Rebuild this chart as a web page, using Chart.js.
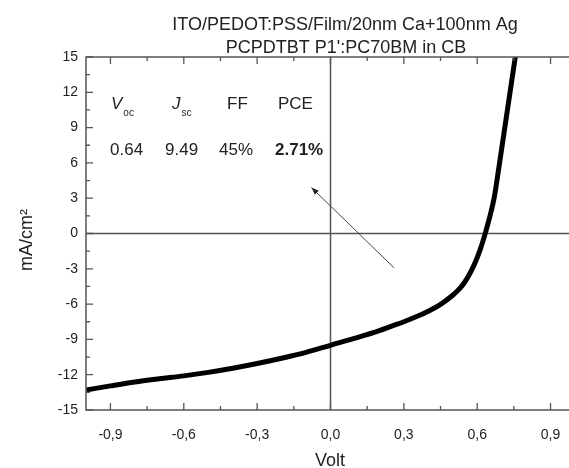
<!DOCTYPE html>
<html>
<head>
<meta charset="utf-8">
<script src="https://cdn.jsdelivr.net/npm/chart.js@4.4.0/dist/chart.umd.min.js"></script>
<style>
  html, body { margin: 0; padding: 0; overflow: hidden; background: #fff; }
  #wrap { width: 580px; height: 468px; }
</style>
</head>
<body>
<div id="wrap"><canvas id="ivChart"></canvas></div>
<script>
// J-V curve
const voltage = [-1.0, -0.9, -0.8, -0.7, -0.6, -0.5, -0.4, -0.3, -0.2, -0.1, 0.0, 0.1, 0.2, 0.25, 0.3, 0.35, 0.4, 0.45, 0.5, 0.53, 0.55, 0.57, 0.59, 0.61, 0.63, 0.65, 0.67, 0.69, 0.71, 0.73, 0.75, 0.77];
const current = [-13.3, -12.95, -12.62, -12.35, -12.1, -11.8, -11.45, -11.05, -10.6, -10.1, -9.5, -8.9, -8.25, -7.87, -7.5, -7.08, -6.6, -6.02, -5.25, -4.65, -4.1, -3.4, -2.55, -1.5, -0.2, 1.3, 3.1, 5.8, 8.6, 11.4, 14.2, 17.0];

const xTickVals = [-0.9, -0.6, -0.3, 0, 0.3, 0.6, 0.9];
const yTickVals = [-15, -12, -9, -6, -3, 0, 3, 6, 9, 12, 15];

const titleLines = ['ITO/PEDOT:PSS/Film/20nm Ca+100nm Ag', "PCPDTBT P1':PC70BM in CB"];
const paramNames = [['V', 'oc'], ['J', 'sc'], ['FF', ''], ['PCE', '']];
const paramValues = ['0.64', '9.49', '45%', '2.71%'];

const arrowTail = { x: 0.26, y: -2.92 };
const arrowHead = { x: -0.078, y: 3.91 };

const FONT = "'Liberation Sans', Arial, sans-serif";
const AXIS = '#555';

function midpoints(arr) {
  var out = [];
  for (var i = 0; i < arr.length - 1; i++) out.push((arr[i] + arr[i + 1]) / 2);
  return out;
}

const decor = {
  id: 'decor',
  beforeDatasetsDraw(chart) {
    const ctx = chart.ctx, a = chart.chartArea;
    const xs = chart.scales.x, ys = chart.scales.y;
    ctx.save();
    ctx.strokeStyle = AXIS;
    ctx.lineWidth = 1.5;
    // zero lines
    const y0 = ys.getPixelForValue(0), x0 = xs.getPixelForValue(0);
    ctx.beginPath();
    ctx.moveTo(a.left, y0); ctx.lineTo(a.right, y0);
    ctx.moveTo(x0, a.top); ctx.lineTo(x0, a.bottom);
    ctx.stroke();
    ctx.restore();
  },
  afterDraw(chart) {
    const ctx = chart.ctx, a = chart.chartArea;
    const xs = chart.scales.x, ys = chart.scales.y;
    ctx.save();
    // frame
    ctx.strokeStyle = AXIS;
    ctx.lineWidth = 1.5;
    ctx.strokeRect(a.left, a.top, a.right - a.left, a.bottom - a.top);

    // inward ticks
    ctx.lineWidth = 1.3;
    ctx.beginPath();
    function xTick(v, len) {
      const p = xs.getPixelForValue(v);
      ctx.moveTo(p, a.bottom); ctx.lineTo(p, a.bottom - len);
      ctx.moveTo(p, a.top); ctx.lineTo(p, a.top + len);
    }
    function yTick(v, len) {
      const p = ys.getPixelForValue(v);
      ctx.moveTo(a.left, p); ctx.lineTo(a.left + len, p);
    }
    xTickVals.forEach(v => xTick(v, 7));
    midpoints(xTickVals).forEach(v => xTick(v, 4));
    yTickVals.forEach(v => yTick(v, 7));
    midpoints(yTickVals).forEach(v => yTick(v, 4));
    ctx.stroke();

    // arrow
    const tx = xs.getPixelForValue(arrowTail.x), ty = ys.getPixelForValue(arrowTail.y);
    const hx = xs.getPixelForValue(arrowHead.x), hy = ys.getPixelForValue(arrowHead.y);
    ctx.strokeStyle = '#444';
    ctx.fillStyle = '#222';
    ctx.lineWidth = 1;
    ctx.beginPath();
    ctx.moveTo(tx, ty); ctx.lineTo(hx, hy);
    ctx.stroke();
    const ang = Math.atan2(hy - ty, hx - tx);
    ctx.beginPath();
    ctx.moveTo(hx, hy);
    ctx.lineTo(hx - 8 * Math.cos(ang - 0.35), hy - 8 * Math.sin(ang - 0.35));
    ctx.lineTo(hx - 8 * Math.cos(ang + 0.35), hy - 8 * Math.sin(ang + 0.35));
    ctx.closePath();
    ctx.fill();

    // titles
    ctx.fillStyle = '#222';
    ctx.textAlign = 'center';
    ctx.textBaseline = 'alphabetic';
    ctx.font = '18px ' + FONT;
    ctx.fillText(titleLines[0], 345, 30);
    ctx.fillText(titleLines[1], 346, 53);

    // axis titles
    ctx.fillText('Volt', 330, 466);
    ctx.save();
    ctx.translate(32, 240);
    ctx.rotate(-Math.PI / 2);
    ctx.fillText('mA/cm\u00B2', 0, 0);
    ctx.restore();

    // parameter table
    const colX = [111, 172, 227, 278];
    ctx.textAlign = 'left';
    paramNames.forEach((n, i) => {
      ctx.font = (n[1] ? 'italic ' : '') + '17px ' + FONT;
      ctx.fillText(n[0], colX[i], 109);
      if (n[1]) {
        const w = ctx.measureText(n[0]).width;
        ctx.font = '10px ' + FONT;
        ctx.fillText(n[1], colX[i] + w + 1, 116);
      }
    });
    const valX = [110, 165, 219, 275];
    paramValues.forEach((v, i) => {
      ctx.font = (i === 3 ? 'bold ' : '') + '17px ' + FONT;
      ctx.fillText(v, valX[i], 155);
    });
    ctx.restore();
  }
};

new Chart('ivChart', {
  type: 'line',
  data: {
    datasets: [{
      data: voltage.map((v, i) => ({ x: v, y: current[i] })),
      borderColor: '#000',
      borderWidth: 5,
      pointRadius: 0,
      cubicInterpolationMode: 'monotone',
      fill: false
    }]
  },
  options: {
    responsive: true,
    maintainAspectRatio: false,
    animation: false,
    layout: { padding: { top: 57, right: 5, left: 0, bottom: 0 } },
    plugins: { legend: { display: false }, tooltip: { enabled: false }, title: { display: false } },
    scales: {
      x: {
        type: 'linear',
        min: -1, max: 1,
        grid: { display: false, drawTicks: false },
        border: { display: false },
        afterBuildTicks: s => { s.ticks = xTickVals.map(v => ({ value: v })); },
        afterFit: s => { s.height = 58; },
        ticks: {
          font: { family: FONT, size: 14 },
          color: '#222',
          padding: 17,
          maxRotation: 0,
          callback: v => v.toFixed(1).replace('.', ',')
        }
      },
      y: {
        min: -15, max: 15,
        grid: { display: false, drawTicks: false },
        border: { display: false },
        afterBuildTicks: s => { s.ticks = yTickVals.map(v => ({ value: v })); },
        afterFit: s => { s.width = 86; },
        ticks: {
          font: { family: FONT, size: 14 },
          color: '#222',
          padding: 8
        }
      }
    }
  },
  plugins: [decor]
});
</script>
</body>
</html>
